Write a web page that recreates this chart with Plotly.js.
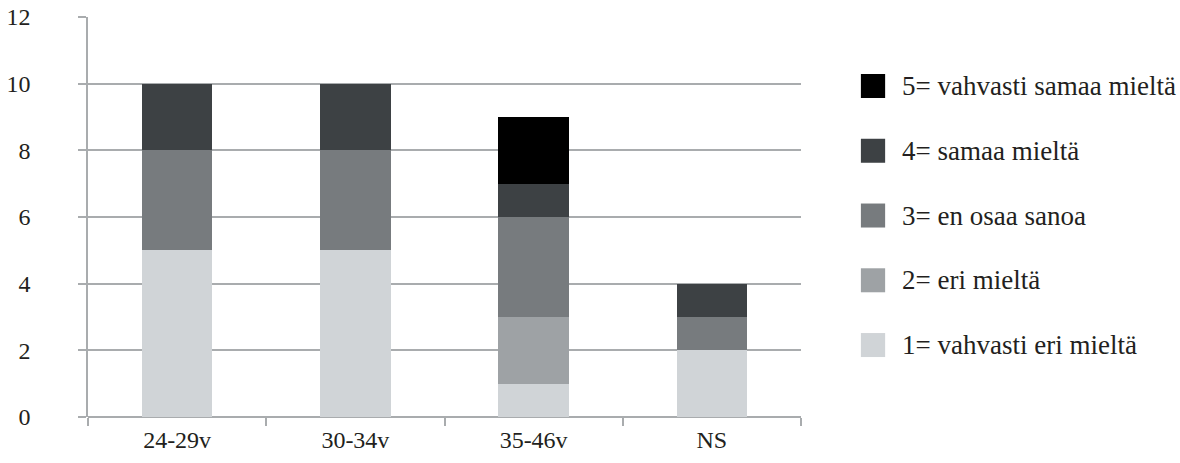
<!DOCTYPE html>
<html>
<head>
<meta charset="utf-8">
<script src="https://cdn.plot.ly/plotly-3.0.1.min.js"></script>
<style>
  html, body { margin: 0; padding: 0; background: #ffffff; }
  #chart { width: 1180px; height: 463px; }
</style>
</head>
<body>
<div id="chart"></div>
<script>
// Age groups on the x axis
const ageGroups = ['24-29v', '30-34v', '35-46v', 'NS'];

// Answer counts per age group, one array per answer option
const vahvastiEriMielta = [5, 5, 1, 2];    // 1
const eriMielta = [0, 0, 2, 0];            // 2
const enOsaaSanoa = [3, 3, 3, 1];          // 3
const samaaMielta = [2, 2, 1, 1];          // 4
const vahvastiSamaaMielta = [0, 0, 2, 0];  // 5

const seriesNames = [
  '1= vahvasti eri mieltä',
  '2= eri mieltä',
  '3= en osaa sanoa',
  '4= samaa mieltä',
  '5= vahvasti samaa mieltä'
];
const seriesValues = [vahvastiEriMielta, eriMielta, enOsaaSanoa, samaaMielta, vahvastiSamaaMielta];
const seriesColors = ['#d0d4d7', '#9ea2a5', '#777b7e', '#3d4144', '#000000'];

const yTicks = [0, 2, 4, 6, 8, 10, 12];

const FONT = 'Liberation Serif';
const TEXT = '#231f20';
const GRID = '#a9acae';

const traces = seriesValues.map((vals, i) => ({
  type: 'bar',
  name: seriesNames[i],
  x: ageGroups,
  y: vals,
  marker: { color: seriesColors[i] }
}));

// Legend drawn as squares + labels, top entry is option 5
const shapes = [];
const annotations = [];
const legendTop = 0.8275;
const legendStep = 0.1619;
const sq = 0.06;
for (let k = 0; k < seriesNames.length; k++) {
  const idx = seriesNames.length - 1 - k;
  const yc = legendTop - k * legendStep;
  shapes.push({
    type: 'rect', xref: 'paper', yref: 'paper',
    x0: 1.084, x1: 1.118, y0: yc - sq / 2, y1: yc + sq / 2,
    fillcolor: seriesColors[idx], line: { width: 0 }
  });
  annotations.push({
    xref: 'paper', yref: 'paper', x: 1.139, y: yc,
    xanchor: 'left', yanchor: 'middle', showarrow: false,
    text: seriesNames[idx],
    font: { family: FONT, size: 27, color: TEXT }
  });
}

const layout = {
  width: 1180,
  height: 463,
  margin: { l: 88, r: 379, t: 17, b: 46 },
  paper_bgcolor: '#ffffff',
  plot_bgcolor: '#ffffff',
  barmode: 'stack',
  bargap: 0.605,
  showlegend: false,
  font: { family: FONT, size: 24, color: TEXT },
  xaxis: {
    type: 'category',
    tickson: 'boundaries',
    ticks: 'outside',
    ticklen: 8,
    tickwidth: 1.5,
    tickcolor: GRID,
    showline: false,
    showgrid: false,
    zeroline: false,
    ticklabelstandoff: 6,
    tickfont: { family: FONT, size: 24, color: TEXT }
  },
  yaxis: {
    range: [0, 12],
    tickvals: yTicks,
    ticks: 'outside',
    ticklen: 8,
    tickwidth: 1.5,
    tickcolor: GRID,
    showgrid: true,
    gridcolor: GRID,
    gridwidth: 1.5,
    showline: true,
    linecolor: GRID,
    linewidth: 1.5,
    zeroline: true,
    zerolinecolor: GRID,
    zerolinewidth: 1.5,
    ticklabelstandoff: 43,
    tickfont: { family: FONT, size: 24, color: TEXT }
  },
  shapes: shapes,
  annotations: annotations
};

Plotly.newPlot('chart', traces, layout, { displayModeBar: false });
</script>
</body>
</html>
